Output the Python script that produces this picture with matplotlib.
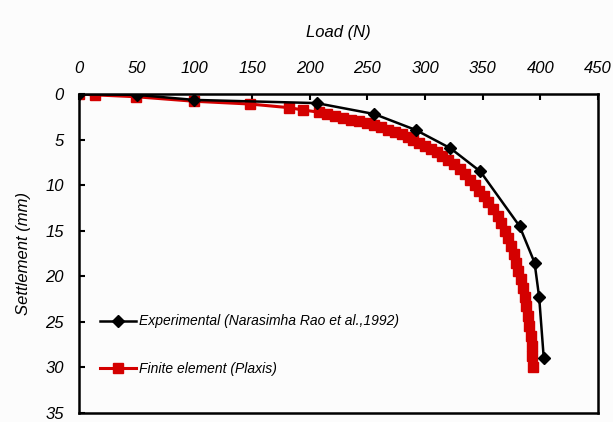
import matplotlib
matplotlib.use("Agg")
import matplotlib.pyplot as plt

# Experimental (Narasimha Rao et al., 1992)
exp_load = [0, 50, 100, 206, 256, 292, 322, 348, 382, 395, 399, 403]
exp_settle = [0, 0.1, 0.65, 1.0, 2.2, 3.95, 5.95, 8.5, 14.5, 18.5, 22.3, 29.0]

# Finite element (Plaxis)
fe_load = [0, 14, 49, 100, 148, 182, 194, 208, 215, 222, 229, 236, 243, 250,
           256, 262, 268, 274, 280, 285, 290, 295, 300, 305, 310, 315, 320,
           325, 330, 335, 339, 343, 347, 351, 355, 359, 363, 366, 369, 372,
           375, 377, 379, 381, 383, 385, 386.5, 388, 389.5, 390.5, 391.5,
           392.5, 393, 393.5]
fe_settle = [0, 0.1, 0.3, 0.8, 1.1, 1.5, 1.75, 2.0, 2.2, 2.4, 2.6, 2.8, 3.0,
             3.15, 3.4, 3.65, 3.9, 4.15, 4.4, 4.7, 5.0, 5.35, 5.7, 6.05, 6.4,
             6.8, 7.2, 7.7, 8.2, 8.8, 9.4, 10.0, 10.6, 11.2, 11.8, 12.6, 13.4,
             14.2, 15.0, 15.8, 16.7, 17.6, 18.5, 19.4, 20.3, 21.3, 22.3, 23.3,
             24.4, 25.5, 26.6, 27.7, 28.8, 29.9]

x_ticks = [0, 50, 100, 150, 200, 250, 300, 350, 400, 450]
y_ticks = [0, 5, 10, 15, 20, 25, 30, 35]

plt.rcParams['font.family'] = ['Liberation Sans', 'DejaVu Sans']
plt.rcParams['font.style'] = 'italic'

fig = plt.figure(figsize=(6.13, 4.22), dpi=100)
fig.patch.set_facecolor('#fcfcfc')
ax = fig.add_axes([0.1289, 0.0213, 0.8466, 0.756])
ax.set_facecolor('#fcfcfc')

ax.plot(fe_load, fe_settle, color='#d40000', lw=2.2, marker='s', ms=7.5,
        label='Finite element (Plaxis)', zorder=2)
ax.plot(exp_load, exp_settle, color='black', lw=1.8, marker='D', ms=6.5,
        label='Experimental (Narasimha Rao et al.,1992)', zorder=3)

ax.set_xlim(0, 450)
ax.set_ylim(35, 0)
ax.set_xticks(x_ticks)
ax.set_yticks(y_ticks)
ax.xaxis.tick_top()
ax.xaxis.set_label_position('top')
ax.tick_params(axis='x', direction='in', length=4, width=1.5, pad=13, labelsize=12)
ax.tick_params(axis='y', direction='in', length=4, width=1.5, pad=11, labelsize=12)
for s in ax.spines.values():
    s.set_linewidth(1.8)
ax.set_xlabel('Load (N)', fontsize=12, labelpad=17)
ax.set_ylabel('Settlement (mm)', fontsize=12, labelpad=10)

h, l = ax.get_legend_handles_labels()
ax.legend(h[::-1], l[::-1], loc='center left', bbox_to_anchor=(0.04, 0.213),
          frameon=False, fontsize=10, handlelength=2.6, handletextpad=0.2,
          labelspacing=2.4, borderpad=0, borderaxespad=0)

fig.savefig('out.png', dpi=100, facecolor=fig.get_facecolor())
